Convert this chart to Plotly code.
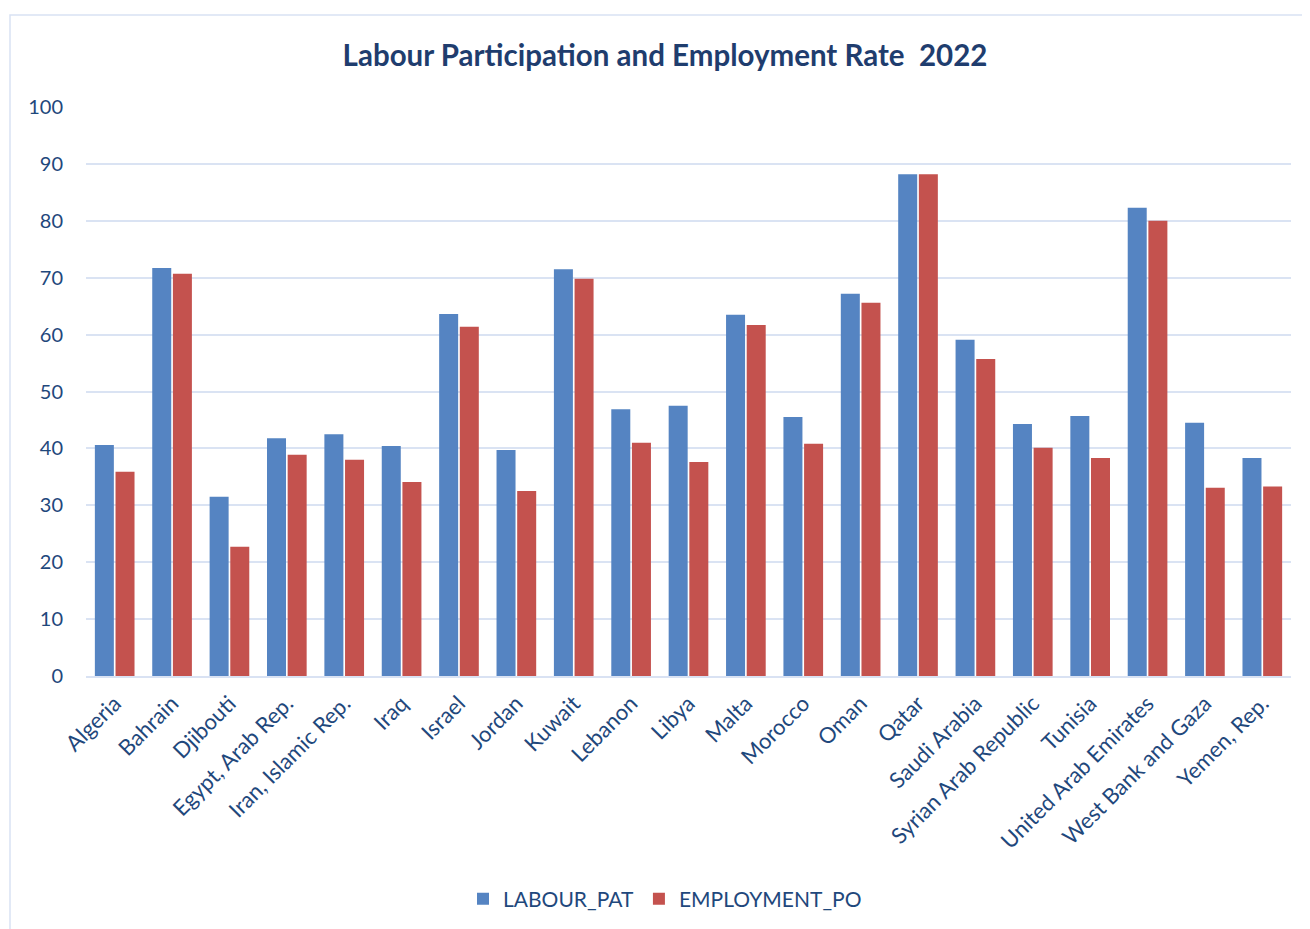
import plotly.graph_objects as go

countries = ["Algeria", "Bahrain", "Djibouti", "Egypt, Arab Rep.", "Iran, Islamic Rep.", "Iraq",
             "Israel", "Jordan", "Kuwait", "Lebanon", "Libya", "Malta", "Morocco", "Oman", "Qatar",
             "Saudi Arabia", "Syrian Arab Republic", "Tunisia", "United Arab Emirates",
             "West Bank and Gaza", "Yemen, Rep."]
labour_pat = [40.6, 71.7, 31.5, 41.8, 42.5, 40.4, 63.6, 39.7, 71.5, 46.9, 47.5, 63.5, 45.5,
              67.2, 88.2, 59.1, 44.3, 45.7, 82.3, 44.5, 38.3]
employment_po = [35.9, 70.7, 22.7, 38.9, 38.0, 34.1, 61.4, 32.5, 69.8, 41.0, 37.6, 61.7, 40.8,
                 65.6, 88.2, 55.7, 40.1, 38.3, 80.0, 33.1, 33.3]
y_ticks = [0, 10, 20, 30, 40, 50, 60, 70, 80, 90, 100]

FONT = "Lato"
TXT = "#1F487C"

fig = go.Figure()
fig.add_trace(go.Bar(x=countries, y=labour_pat, name="LABOUR_PAT",
                     marker=dict(color="#5584C2", line=dict(width=0))))
fig.add_trace(go.Bar(x=countries, y=employment_po, name="EMPLOYMENT_PO",
                     marker=dict(color="#C4524E", line=dict(width=0))))

OFF = 8  # page body margin
W, H = 1310, 929
L, T = 86 - OFF, 107 - OFF
pw, ph = 1205, 569
R = W - L - pw
B = H - T - ph

def px_x(x):
    return (x - OFF - L) / pw

def px_y(y):
    return (T + ph - (y - OFF)) / ph

fig.update_layout(
    width=W, height=H,
    margin=dict(l=L, r=R, t=T, b=B),
    paper_bgcolor="white", plot_bgcolor="white",
    barmode="group", bargap=0.28, bargroupgap=0.08,
    title=dict(text="<b>Labour Participation and Employment Rate  2022</b>",
               x=px_x(665), xref="paper", xanchor="center",
               y=1 - (56 - OFF) / H, yanchor="middle",
               font=dict(family=FONT, size=29.5, color="#1F3D6E")),
    font=dict(family=FONT, color=TXT),
    legend=dict(orientation="h", x=px_x(665), xanchor="center",
                y=px_y(899), yanchor="middle",
                font=dict(family=FONT, size=21, color=TXT),
                itemsizing="constant", traceorder="normal"),
    xaxis=dict(tickangle=-45, tickfont=dict(family=FONT, size=22, color=TXT),
               showgrid=False, showline=True, linecolor="#D9E2F3", linewidth=2,
               ticks="", ticklabelstandoff=4),
    yaxis=dict(range=[0, 100], tickvals=y_ticks,
               tickfont=dict(family=FONT, size=20, color=TXT),
               showgrid=True, gridcolor="#DAE3F3", gridwidth=2,
               zeroline=False, showline=False, ticks="", ticklabelstandoff=22),
    shapes=[dict(type="rect", xref="paper", yref="paper",
                 x0=px_x(10), x1=px_x(1330),
                 y0=px_y(950), y1=px_y(15),
                 line=dict(color="#D9E2F3", width=1.5), fillcolor="rgba(0,0,0,0)",
                 layer="below")],
)

fig.write_html("out.html")
